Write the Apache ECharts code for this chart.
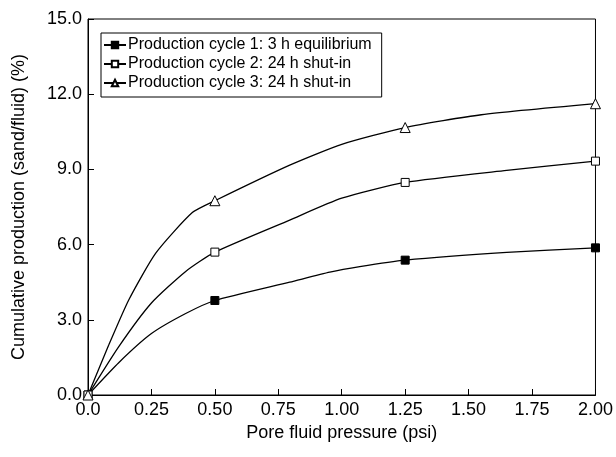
<!DOCTYPE html>
<html>
<head>
<meta charset="utf-8">
<script src="https://cdn.jsdelivr.net/npm/echarts@6/dist/echarts.min.js"></script>
<style>
  html, body { margin: 0; padding: 0; background: #fff; }
  #container { width: 616px; height: 457px; }
</style>
</head>
<body>
<div id="container"></div>
<script>
var measuredAt = [0, 0.5, 1.25, 2.0];

var pressure1 = [0, 0.122, 0.25, 0.385, 0.5, 0.795, 0.953, 1.071, 1.25, 1.65, 2.0];
var cycle1 = [0, 1.3, 2.45, 3.25, 3.77, 4.5, 4.9, 5.12, 5.38, 5.69, 5.87];

var pressure2 = [0, 0.122, 0.25, 0.385, 0.5, 0.795, 1.0, 1.25, 1.65, 2.0];
var cycle2 = [0, 1.94, 3.67, 4.93, 5.70, 6.98, 7.85, 8.48, 8.96, 9.33];

var pressure3 = [0, 0.08, 0.161, 0.267, 0.41, 0.5, 0.795, 1.0, 1.25, 1.55, 2.0];
var cycle3 = [0, 1.95, 3.8, 5.66, 7.27, 7.75, 9.17, 10.0, 10.67, 11.18, 11.62];

var seriesNames = [
    'Production cycle 1: 3 h equilibrium',
    'Production cycle 2: 24 h shut-in',
    'Production cycle 3: 24 h shut-in'
];

var xTickLabels = ['0.0', '0.25', '0.50', '0.75', '1.00', '1.25', '1.50', '1.75', '2.00'];
var yTickLabels = ['0.0', '3.0', '6.0', '9.0', '12.0', '15.0'];

function points(xs, ys) {
    return xs.map(function (x, i) {
        var item = { value: [x, ys[i]] };
        if (measuredAt.indexOf(x) < 0) {
            item.symbol = 'none';
        }
        return item;
    });
}

function makeSeries(name, data, symbol, fill, size) {
    return {
        name: name,
        type: 'line',
        data: data,
        smooth: 0.2,
        symbol: symbol,
        symbolSize: size,
        showSymbol: true,
        showAllSymbol: true,
        lineStyle: { color: '#000', width: 1.3 },
        itemStyle: { color: fill, borderColor: '#000', borderWidth: 1 },
        emphasis: { disabled: true }
    };
}

var dom = document.getElementById('container');
var myChart = echarts.init(dom);

var font = 'Liberation Sans, Arial, sans-serif';

var option = {
    animation: false,
    textStyle: { fontFamily: font, color: '#000' },
    grid: {
        left: 88,
        right: 20,
        top: 19,
        bottom: 62,
        show: true,
        borderColor: '#000',
        borderWidth: 1
    },
    legend: {
        orient: 'vertical',
        left: 101,
        top: 33,
        padding: [4, 10, 6, 2],
        itemGap: 3,
        itemWidth: 22,
        itemHeight: 8,
        borderColor: '#000',
        borderWidth: 1,
        selectedMode: false,
        textStyle: { fontFamily: font, fontSize: 16, color: '#000', padding: [0, 0, 0, -3] },
        data: seriesNames
    },
    xAxis: {
        type: 'value',
        min: 0,
        max: 2,
        interval: 0.25,
        name: 'Pore fluid pressure (psi)',
        nameLocation: 'middle',
        nameGap: 28,
        nameTextStyle: { fontFamily: font, fontSize: 18, color: '#000' },
        axisLine: { lineStyle: { color: '#000', width: 1 } },
        axisTick: { inside: true, length: 6, lineStyle: { color: '#000' } },
        axisLabel: {
            fontFamily: font,
            fontSize: 18,
            color: '#000',
            margin: 6,
            showMinLabel: true,
            showMaxLabel: true,
            formatter: function (v, i) { return xTickLabels[i]; }
        },
        splitLine: { show: false }
    },
    yAxis: {
        type: 'value',
        min: 0,
        max: 15,
        interval: 3,
        name: 'Cumulative production (sand/fluid) (%)',
        nameLocation: 'middle',
        nameGap: 60,
        nameTextStyle: { fontFamily: font, fontSize: 18, color: '#000' },
        axisLine: { show: true, lineStyle: { color: '#000', width: 1 } },
        axisTick: { show: true, inside: true, length: 6, lineStyle: { color: '#000' } },
        axisLabel: {
            fontFamily: font,
            fontSize: 18,
            color: '#000',
            margin: 6,
            formatter: function (v, i) { return yTickLabels[i]; }
        },
        splitLine: { show: false }
    },
    series: [
        makeSeries(seriesNames[0], points(pressure1, cycle1), 'rect', '#000', 8),
        makeSeries(seriesNames[1], points(pressure2, cycle2), 'rect', '#fff', 8),
        makeSeries(seriesNames[2], points(pressure3, cycle3), 'triangle', '#fff', 10)
    ]
};

myChart.setOption(option);
</script>
</body>
</html>
